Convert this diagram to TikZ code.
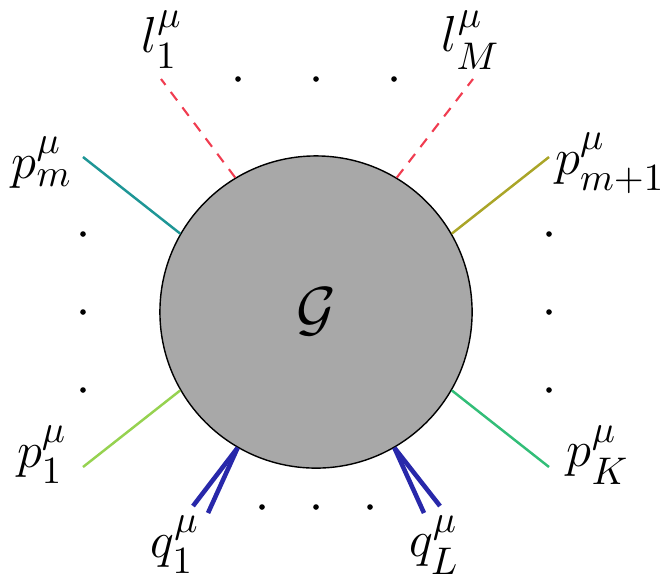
\documentclass[tikz,border=0pt]{standalone}
\usepackage{amsmath,amssymb}
\usepackage{tikz}
\usetikzlibrary{calc}
\definecolor{legteal}{RGB}{30,150,150}
\definecolor{leglime}{RGB}{150,210,80}
\definecolor{legolive}{RGB}{170,165,40}
\definecolor{leggreen}{RGB}{50,190,120}
\definecolor{legred}{RGB}{240,60,80}
\definecolor{legblue}{RGB}{40,40,170}

\begin{document}
\begin{tikzpicture}[
      x=0.01cm, y=-0.01cm,
      blob/.style={draw, circle, thin, fill=black!34, minimum size=3.12cm,
                   inner sep=0pt},
      lbl/.style={font=\fontsize{15.5}{18}\selectfont, inner sep=0pt},
      leg/.style={line width=0.7pt},
      loop/.style={legred, line width=0.6pt, dash pattern=on 3pt off 2.5pt},
      pair/.style={legblue, line width=1.3pt},
      dot/.style={fill, circle, inner sep=0pt, minimum size=1.6pt},
    ]
    \useasboundingbox (0,0) rectangle (665,578);

    % Blob
    \node[blob] (G) at (316,312) {\fontsize{17}{20}\selectfont$\mathcal{G}$};

    % Outer ends
    \coordinate (em)  at (83,157);
    \coordinate (e1)  at (83,467);
    \coordinate (emp) at (549,157);
    \coordinate (eK)  at (549,467);
    \coordinate (el1) at (161,79);
    \coordinate (elM) at (473,79);

    % External momenta
    \draw[leg, legteal]  (G.150) -- (em);
    \draw[leg, leglime]  (G.210) -- (e1);
    \draw[leg, legolive] (G.30)  -- (emp);
    \draw[leg, leggreen] (G.-30) -- (eK);

    % Loop momenta
    \draw[loop] (G.121) -- (el1);
    \draw[loop] (G.59)  -- (elM);

    % Pairs
    \coordinate (q1a) at (193,506);
    \coordinate (q1b) at (208,513);
    \coordinate (qLa) at (440,506);
    \coordinate (qLb) at (424,513);
    \draw[pair] (G.-120) -- (q1a);
    \draw[pair] (G.-120) -- (q1b);
    \draw[pair] (G.-60)  -- (qLa);
    \draw[pair] (G.-60)  -- (qLb);

    % Dots
    \foreach \xx in {238,316,394} \node[dot] at (\xx,79) {};
    \foreach \xx in {262,316,370} \node[dot] at (\xx,507) {};
    \foreach \yy in {234,312,390} {
      \node[dot] at (83,\yy) {};
      \node[dot] at (549,\yy) {};
    }

    % Labels
    \node[lbl] (lm)  at (42,163)  {$p_m^\mu$};
    \node[lbl] (l1)  at (42,455)  {$p_1^\mu$};
    \node[lbl] (lmp) at (610,163) {$p_{m+1}^\mu$};
    \node[lbl] (lK)  at (598,455) {$p_K^\mu$};
    \node[lbl] (ll1) at (162,40)  {$l_1^\mu$};
    \node[lbl] (llM) at (471,40)  {$l_M^\mu$};
    \node[lbl] (lq1) at (175,545) {$q_1^\mu$};
    \node[lbl] (lqL) at (434,545) {$q_L^\mu$};
  \end{tikzpicture}
\end{document}
